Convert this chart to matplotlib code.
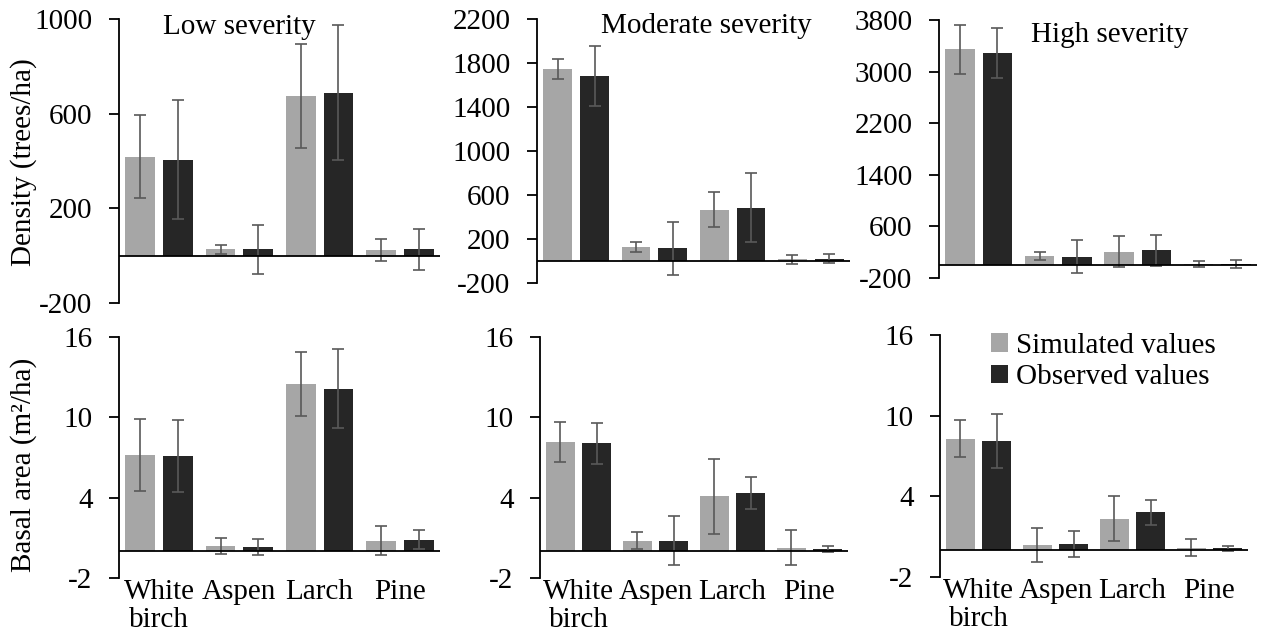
import numpy as np
import matplotlib.pyplot as plt

plt.rcParams['font.family'] = ['Liberation Serif', 'DejaVu Serif']
plt.rcParams['axes.unicode_minus'] = False

species = ['White\nbirch', 'Aspen', 'Larch', 'Pine']
titles = ['Low severity', 'Moderate severity', 'High severity']

# Density (trees/ha): simulated / observed means and error
dens_sim = [[419, 27, 674, 24], [1747, 129, 465, 14], [3349, 145, 207, 17]]
dens_sim_err = [[177, 20, 219, 48], [91, 48, 160, 45], [380, 60, 240, 40]]
dens_obs = [[406, 27, 688, 27], [1680, 114, 486, 20], [3291, 130, 228, 22]]
dens_obs_err = [[250, 103, 285, 87], [273, 244, 314, 40], [390, 257, 240, 60]]

# Basal area (m2/ha)
ba_sim = [[7.2, 0.38, 12.5, 0.78], [8.18, 0.8, 4.1, 0.25], [8.3, 0.38, 2.35, 0.18]]
ba_sim_err = [[2.68, 0.6, 2.4, 1.08], [1.5, 0.63, 2.8, 1.3], [1.37, 1.28, 1.68, 0.65]]
ba_obs = [[7.13, 0.33, 12.15, 0.85], [8.05, 0.8, 4.35, 0.18], [8.1, 0.43, 2.8, 0.13]]
ba_obs_err = [[2.67, 0.6, 2.95, 0.7], [1.5, 1.8, 1.17, 0.22], [2.0, 0.97, 0.9, 0.2]]

dens_ticks = [[-200, 200, 600, 1000], [-200, 200, 600, 1000, 1400, 1800, 2200],
              [-200, 600, 1400, 2200, 3000, 3800]]
ba_ticks = [-2, 4, 10, 16]

W, H = 1266, 637
# axes boxes in pixels: left, right, top, bottom
top_boxes = [(119, 440, 19, 303), (537, 850, 19, 283), (939, 1257, 20, 278)]
bot_boxes = [(119, 440, 337, 578), (540, 848, 337, 578), (940, 1248, 335, 577)]
title_pos = [(0.374, 0.947), (0.542, 0.947), (0.538, 0.915)]

c_sim = '#a6a6a6'
c_obs = '#262626'
c_err = '#595959'
fs = 21

fig = plt.figure(figsize=(W / 100, H / 100), dpi=100)


def make_ax(box):
    l, r, t, b = box
    return fig.add_axes([l / W, 1 - b / H, (r - l) / W, (b - t) / H])


def draw(ax, sim, sim_e, obs, obs_e, ticks, show_x):
    x = np.arange(len(species))
    w = 0.37
    ax.bar(x - 0.235, sim, w, color=c_sim, zorder=2, label='Simulated values')
    ax.bar(x + 0.235, obs, w, color=c_obs, zorder=2, label='Observed values')
    ek = dict(ecolor=c_err, elinewidth=1.2, capsize=4, capthick=1.2, fmt='none', zorder=3)
    ax.errorbar(x - 0.235, sim, yerr=sim_e, **ek)
    ax.errorbar(x + 0.235, obs, yerr=obs_e, **ek)
    ax.axhline(0, color='black', lw=1.3, zorder=4)
    ax.set_xlim(-0.5, 3.5)
    ax.set_ylim(ticks[0], ticks[-1])
    ax.set_yticks(ticks)
    for s in ['top', 'right', 'bottom']:
        ax.spines[s].set_visible(False)
    ax.spines['left'].set_linewidth(1.3)
    ax.tick_params(axis='y', direction='out', length=7, width=1.3, pad=12, labelsize=fs)
    ax.set_xticks(x)
    if show_x:
        ax.set_xticklabels(species, fontsize=fs, linespacing=1.1)
        ax.tick_params(axis='x', length=0, pad=1)
    else:
        ax.set_xticklabels([])
        ax.tick_params(axis='x', length=0)


for i in range(3):
    ax = make_ax(top_boxes[i])
    draw(ax, dens_sim[i], dens_sim_err[i], dens_obs[i], dens_obs_err[i], dens_ticks[i], False)
    ax.text(title_pos[i][0], title_pos[i][1], titles[i], transform=ax.transAxes,
            ha='center', va='baseline', fontsize=fs)
    if i == 0:
        ax.set_ylabel('Density (trees/ha)', fontsize=fs)
        ax.yaxis.set_label_coords(-0.255, 0.496)

for i in range(3):
    ax = make_ax(bot_boxes[i])
    draw(ax, ba_sim[i], ba_sim_err[i], ba_obs[i], ba_obs_err[i], ba_ticks, True)
    if i == 0:
        ax.set_ylabel('Basal area (m²/ha)', fontsize=fs)
        ax.yaxis.set_label_coords(-0.255, 0.47)
    if i == 2:
        ax.legend(loc='upper left', bbox_to_anchor=(0.127, 1.058), frameon=False, fontsize=fs,
                  handlelength=0.6, handleheight=0.6, handletextpad=0.25, labelspacing=0.2,
                  borderaxespad=0)

fig.savefig('out.png', dpi=100)
